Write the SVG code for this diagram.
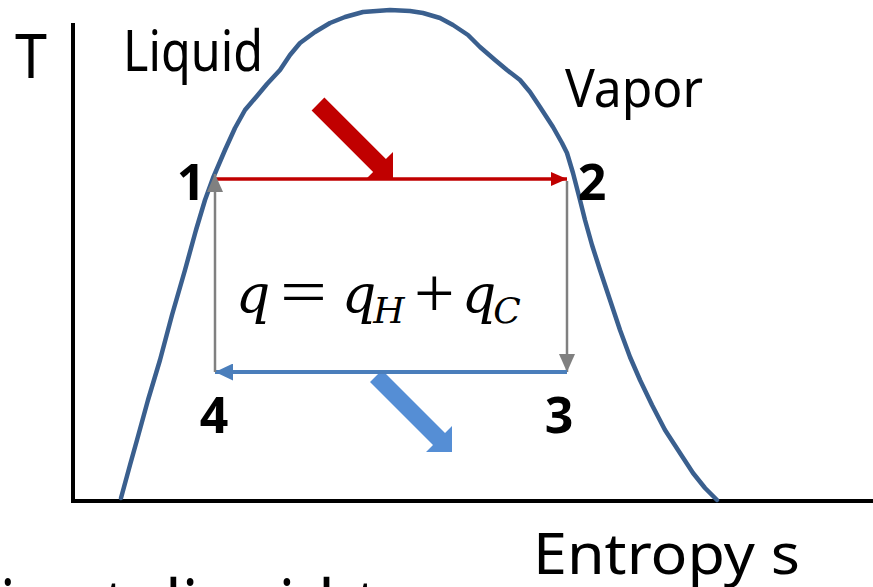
<svg xmlns="http://www.w3.org/2000/svg" width="873" height="587" viewBox="0 0 873 587">
<style>
.lbl{font-family:"Noto Sans","Open Sans","Liberation Sans",sans-serif;fill:#000}
.num{font-family:"Noto Sans","Open Sans","Liberation Sans",sans-serif;font-weight:700;font-size:50px;fill:#000;text-anchor:middle}
.math{font-family:"DejaVu Serif","Liberation Serif",serif;fill:#000;text-anchor:middle}
.op{font-family:"Liberation Serif","DejaVu Serif",serif;fill:#000}
.it{font-style:italic}
</style>
<defs>
<marker id="mRed" markerUnits="userSpaceOnUse" markerWidth="16" markerHeight="14" refX="16" refY="7" orient="auto"><path d="M0,0 L16,7 L0,14 Z" fill="#C00000"/></marker>
<marker id="mGray" markerUnits="userSpaceOnUse" markerWidth="18" markerHeight="16" refX="18" refY="8" orient="auto"><path d="M0,0 L18,8 L0,16 Z" fill="#808080"/></marker>
<marker id="mBlue" markerUnits="userSpaceOnUse" markerWidth="18" markerHeight="17" refX="18" refY="8.5" orient="auto"><path d="M0,0 L18,8.5 L0,17 Z" fill="#4A7EBB"/></marker>
</defs>
<rect width="873" height="587" fill="#fff"/>
<g id="axes" stroke="#000" stroke-width="4" fill="none">
<line x1="73" y1="23" x2="73" y2="503"/>
<line x1="71" y1="501" x2="873" y2="501"/>
</g>
<g id="dome">
<polyline fill="none" stroke="#3A5F8E" stroke-width="4.5" stroke-linejoin="round" stroke-linecap="round" points="121,498 130,465 137,440 148,400 160,360 172,315 185,270 196,230 205,200 213,178 225,150 235,128 245,110 257,96 267,84 280,70 290,55 300,43 315,32 330,23 345,17 363,12 390,10 410,11 423,13 440,18 453,25 468,35 480,47 495,60 507,70 520,80 530,92 540,107 553,127 562,143 567,153 573,173 580,200 585,220 592,245 600,270 610,300 620,330 630,357 640,380 652,405 665,430 678,450 693,473 705,488 717,500"/>
</g>
<g id="heat-arrows">
<polygon id="heat-in" fill="#C00000" points="324.4,97.6 385.9,159.1 393,152 393,179 366,179 373.1,171.9 311.6,110.4"/>
<polygon id="heat-out" fill="#558ED5" points="382,370 445,433 452,426 452,452 426,452 433,445 370,382"/>
</g>
<g id="connectors" fill="none">
<line x1="215" y1="179" x2="567" y2="179" stroke="#C00000" stroke-width="3.5" marker-end="url(#mRed)"/>
<line x1="567" y1="181" x2="567" y2="372" stroke="#808080" stroke-width="2.5" marker-end="url(#mGray)"/>
<line x1="567" y1="372" x2="215" y2="372" stroke="#4A7EBB" stroke-width="4" marker-end="url(#mBlue)"/>
<line x1="215" y1="372" x2="215" y2="174" stroke="#808080" stroke-width="2.5" marker-end="url(#mGray)"/>
</g>
<g id="labels">
<text class="lbl" x="15" y="78" font-size="62" textLength="32" lengthAdjust="spacingAndGlyphs">T</text>
<text class="lbl" x="123" y="71" font-size="57" textLength="140" lengthAdjust="spacingAndGlyphs">Liquid</text>
<text class="lbl" x="565" y="107" font-size="52" textLength="138" lengthAdjust="spacingAndGlyphs">Vapor</text>
<text class="lbl" x="533" y="574" font-size="56" textLength="267" lengthAdjust="spacingAndGlyphs">Entropy s</text>
</g>
<g id="state-1"><text class="num" x="191" y="200">1</text></g>
<g id="state-2"><text class="num" x="592" y="200">2</text></g>
<g id="state-3"><text class="num" x="559" y="433">3</text></g>
<g id="state-4"><text class="num" x="214" y="433">4</text></g>
<g id="equation">
<text class="math it" x="253" y="313" font-size="54">q</text>
<text class="op" x="280" y="313" font-size="64" textLength="47" lengthAdjust="spacingAndGlyphs">=</text>
<text class="math it" x="359" y="313" font-size="54">q</text>
<text class="math it" x="389" y="323" font-size="36">H</text>
<text class="op" x="414" y="317" font-size="72">+</text>
<text class="math it" x="479" y="313" font-size="54">q</text>
<text class="math it" x="507" y="323" font-size="36">C</text>
</g>
<g id="caption">
<text class="lbl" font-size="72" y="631"><tspan x="0" textLength="90" lengthAdjust="spacingAndGlyphs">ing</tspan><tspan x="104" textLength="60" lengthAdjust="spacingAndGlyphs">to</tspan><tspan x="165" textLength="170" lengthAdjust="spacingAndGlyphs">liquid</tspan><tspan x="356" textLength="22" lengthAdjust="spacingAndGlyphs">t</tspan></text>
</g>
</svg>
